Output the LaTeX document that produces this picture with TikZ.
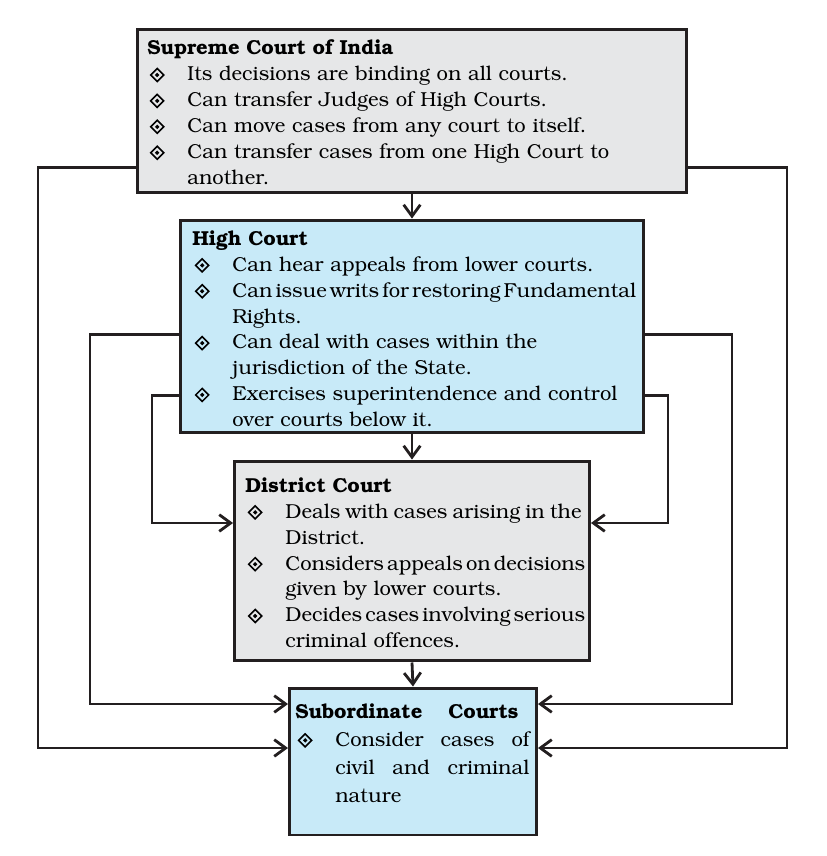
\documentclass[tikz,border=0pt]{standalone}
\usepackage[T1]{fontenc}
\usepackage{bookman}
\usepackage{tikz}
\usetikzlibrary{arrows.meta,calc}
\definecolor{linedark}{RGB}{35,31,32}
\definecolor{boxgray}{RGB}{230,231,232}
\definecolor{boxblue}{RGB}{200,234,248}

\newcommand{\dmd}{\tikz[x=1cm,y=1cm,baseline=-0.6ex,line width=0.9pt,line join=miter]{%
  \draw (0,0.13)--(0.13,0)--(0,-0.13)--(-0.13,0)--cycle;
  \fill (0,0.045)--(0.045,0)--(0,-0.045)--(-0.045,0)--cycle;}}
\newlength{\itmind}
\setlength{\itmind}{0.8cm}
\newcommand{\itm}[1]{\par\noindent\hangindent=\itmind\hangafter=1%
  \makebox[\itmind][l]{\hspace{0.05cm}\dmd}#1}
\newcommand{\tight}{\spaceskip=0.16em plus 0.05em\relax}

\begin{document}
\begin{tikzpicture}[
    x=0.02cm, y=-0.02cm,
    courtbox/.style={rectangle, draw=linedark, line width=1.7pt, inner sep=0pt},
    courttext/.style={anchor=north west, inner sep=0pt, align=left,
                      font=\fontsize{11.5}{14.75}\selectfont},
    arrow/.style={-{Straight Barb[length=6.5pt,width=9.5pt]}, line width=1.6pt, color=linedark}
  ]
    \useasboundingbox (0,0) rectangle (827,856);

    \node[courtbox, fill=boxgray, minimum width=10.98cm, minimum height=3.28cm] (sc)  at (412,111)   {};
    \node[courtbox, fill=boxblue, minimum width=9.26cm,  minimum height=4.26cm] (hc)  at (412,326.5) {};
    \node[courtbox, fill=boxgray, minimum width=7.1cm,   minimum height=4cm]    (dc)  at (412,561)   {};
    \node[courtbox, fill=boxblue, minimum width=4.94cm,  minimum height=2.94cm] (sub) at (413,761.5) {};

    \node[courttext, text width=10.4cm] (sctext) at ($(sc.north west)+(11,12)$) {%
      \textbf{Supreme Court of India}
      \itm{Its decisions are binding on all courts.}
      \itm{Can transfer Judges of High Courts.}
      \itm{Can move cases from any court to itself.}
      \itm{Can transfer cases from one High Court to\newline another.}\par};
    \node[courttext, text width=9.1cm] (hctext) at ($(hc.north west)+(13,12)$) {%
      \textbf{High Court}
      \itm{Can hear appeals from lower courts.}
      \itm{{\tight Can issue writs for restoring Fundamental}\newline Rights.}
      \itm{Can deal with cases within the\newline jurisdiction of the State.}
      \itm{Exercises superintendence and control\newline over courts below it.}\par};
    \node[courttext, text width=7.1cm] (dctext) at ($(dc.north west)+(12,18)$) {%
      \textbf{District Court}
      \itm{{\spaceskip=0.26em\relax Deals with cases arising in the}\newline District.}
      \itm{{\tight Considers appeals on decisions}\newline given by lower courts.}
      \itm{{\tight Decides cases involving serious}\newline criminal offences.}\par};
    \node[courttext, text width=4.68cm, align=justify,
          font=\fontsize{11.5}{15.9}\selectfont] (subtext) at ($(sub.north west)+(7,17)$) {%
      \makebox[4.46cm][s]{\bfseries Subordinate Courts}
      \itm{Consider cases of\linebreak civil and criminal\linebreak nature}\par};

    \draw[arrow] (sc.south) -- (hc.north);
    \draw[arrow] (hc.south) -- (dc.north);
    \draw[arrow] (dc.south) -- (sub.north);

    \draw[arrow] ($(sc.south west)+(0,-27)$) -- ++(-98,0) |- ($(sub.west)+(0,-13.5)$);
    \draw[arrow] ($(sc.south east)+(0,-27)$) -- ++(99,0)  |- ($(sub.east)+(0,-13.5)$);
    \draw[arrow] ($(hc.south west)+(0,-100)$) -- ++(-89,0) |- ($(sub.west)+(0,-57.5)$);
    \draw[arrow] ($(hc.south east)+(0,-100)$) -- ++(87,0)  |- ($(sub.east)+(0,-57.5)$);
    \draw[arrow] ($(hc.south west)+(0,-39)$) -- ++(-27,0) |- ($(dc.west)+(0,-38)$);
    \draw[arrow] ($(hc.south east)+(0,-39)$) -- ++(23,0)  |- ($(dc.east)+(0,-38)$);
  \end{tikzpicture}
\end{document}
